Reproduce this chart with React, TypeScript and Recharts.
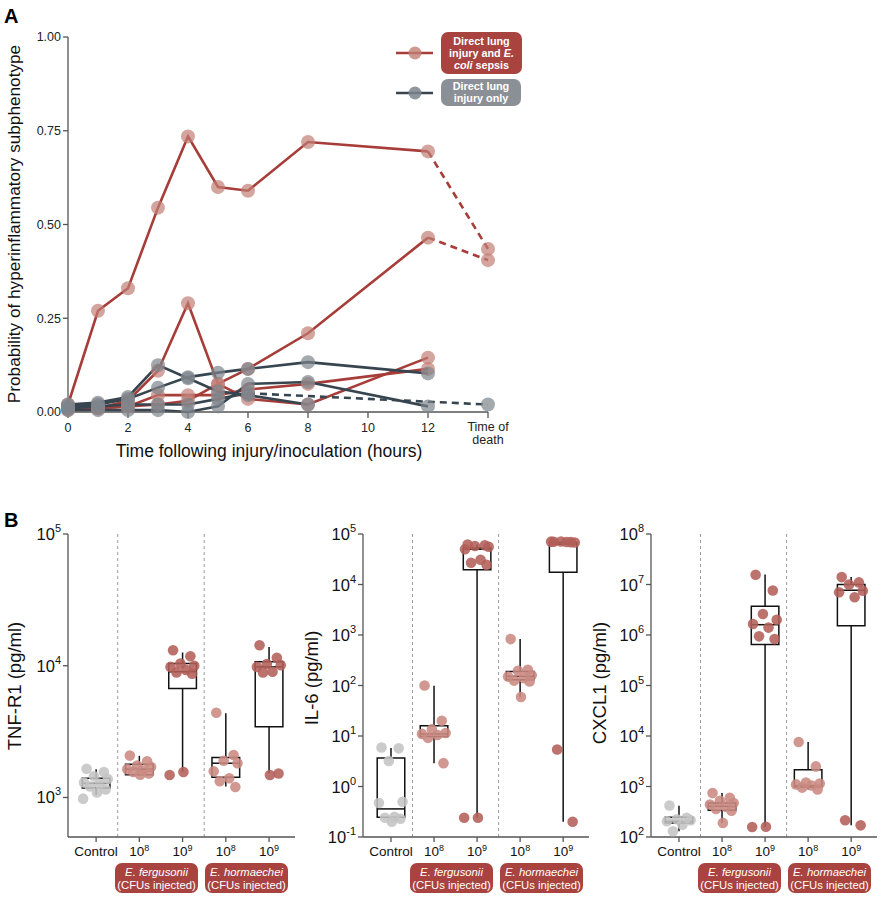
import React from "react";
import { ComposedChart, Line, Scatter, XAxis, YAxis, ReferenceArea, ReferenceLine } from "recharts";

const FONT = "'Liberation Sans', Arial, Helvetica, sans-serif";

// ---- panel A: probability of hyperinflammatory subphenotype ----
const hours = [0, 1, 2, 3, 4, 5, 6, 8, 12];
const DEATH = 14;
const sepsisA = [0.02, 0.27, 0.33, 0.545, 0.735, 0.6, 0.59, 0.72, 0.695];
const sepsisB = [0.01, 0.01, 0.015, 0.02, 0.03, 0.075, 0.115, 0.21, 0.465];
const sepsisC = [0.01, 0.01, 0.03, 0.11, 0.29, 0.075, 0.035, 0.02, 0.145];
const sepsisD = [0.005, 0.01, 0.015, 0.045, 0.045, 0.045, 0.06, 0.075, 0.115];
const lungA = [0.02, 0.025, 0.04, 0.125, 0.09, 0.055, 0.045, 0.02, null];
const lungB = [0.015, 0.02, 0.035, 0.065, 0.093, 0.105, 0.115, 0.133, 0.103];
const lungC = [0.005, 0.005, 0.005, 0.005, 0.0, 0.015, 0.075, 0.08, 0.015];
const lungD = [0.01, 0.015, 0.02, 0.02, 0.02, 0.035, 0.05, null, null];
// dashed links to time of death: [from hour, value at time of death]
const sepsisADeath = [12, 0.435];
const sepsisBDeath = [12, 0.405];
const lungDDeath = [6, 0.02];

// ---- panel B: cytokines ----
const groupLabels = ["Control", "10^8", "10^9", "10^8", "10^9"];

const tnfControl = [1650, 1560, 1450, 1380, 1300, 1270, 1210, 1150, 1090, 980];
const tnfFerg8 = [2080, 1880, 1750, 1700, 1640, 1600, 1560, 1520, 1490];
const tnfFerg9 = [13100, 11800, 10400, 10000, 9800, 9300, 8900, 8700, 1560, 1480];
const tnfHorm8 = [4400, 2100, 1900, 1820, 1580, 1400, 1330, 1200];
const tnfHorm9 = [14300, 11500, 10300, 10100, 9800, 9000, 8900, 1520, 1480];
// [min, q1, median, q3, max]
const tnfBoxes = [
  [1050, 1180, 1280, 1400, 1640],
  [1485, 1485, 1640, 1790, 2070],
  [1570, 6730, 9000, 10400, 12600],
  [1210, 1425, 1820, 2010, 4350],
  [1530, 3450, 9800, 10700, 13900],
];

const il6Control = [5.9, 5.7, 3.2, 0.5, 0.47, 0.25, 0.24, 0.23, 0.2];
const il6Ferg8 = [100, 20, 13.5, 11.5, 11, 10.5, 9.2, 2.9];
const il6Ferg9 = [62000, 60000, 58000, 56000, 50000, 31000, 27000, 24500, 0.24, 0.24];
const il6Horm8 = [830, 205, 195, 160, 150, 140, 125, 120, 59];
const il6Horm9 = [70000, 69000, 71000, 68000, 70500, 69500, 5.4, 0.2];
const il6Boxes = [
  [0.245, 0.245, 0.36, 3.66, 5.8],
  [2.9, 9.8, 11, 16, 99],
  [0.24, 19600, 50000, 53000, 62000],
  [59, 130, 152, 190, 830],
  [0.2, 17400, 63000, 68000, 71600],
];

const cxControl = [420, 240, 225, 215, 205, 175, 130];
const cxFerg8 = [740, 600, 520, 470, 440, 400, 360, 330, 190];
const cxFerg9 = [15600000, 7600000, 2600000, 2000000, 1650000, 1400000, 940000, 830000, 160, 158];
const cxHorm8 = [7600, 2500, 1200, 1150, 1100, 1050, 950, 870];
const cxHorm9 = [14000000, 11000000, 10000000, 7500000, 7000000, 5600000, 215, 170];
const cxBoxes = [
  [130, 190, 205, 245, 415],
  [190, 340, 405, 470, 740],
  [158, 650000, 1600000, 3700000, 15700000],
  [870, 980, 1040, 2140, 7600],
  [170, 1530000, 7700000, 10000000, 14000000],
];

const spread = [-0.22, 0.18, -0.05, 0.27, -0.28, 0.08, -0.14, 0.22, 0.02, -0.3, 0.12];

const RED_LINE = "#a63d38";
const RED_DOT = "#c27f76";
const GRAY_LINE = "#36454f";
const GRAY_DOT = "#7d848c";
const PILL_RED = "#a8433f";
const PILL_GRAY = "#8b9096";
const groupColors = ["#c4c4c4", "#c98a82", "#b35f59", "#c98a82", "#b35f59"];

const toRows = (vals: (number | null)[]) =>
  hours.map((t, i) => ({ t, p: vals[i] })).filter((r) => r.p !== null);

const HourTick = (props: any) => {
  const { x, y, payload } = props;
  const common = { fontFamily: FONT, fontSize: 12.5, fill: "#222", textAnchor: "middle" as const };
  if (payload.value === DEATH)
    return (
      <text x={x} y={y} dy={11} {...common}>
        <tspan x={x}>Time of</tspan>
        <tspan x={x} dy={13}>death</tspan>
      </text>
    );
  return (
    <text x={x} y={y} dy={12} {...common}>
      {payload.value}
    </text>
  );
};

const PowerTick = (props: any) => {
  const { x, y, payload } = props;
  const e = Math.round(Math.log10(payload.value));
  return (
    <text x={x} y={y} dy={6} textAnchor="end" fontFamily={FONT} fontSize={16.5} fill="#111">
      10
      <tspan dy={-8} fontSize={11}>
        {e}
      </tspan>
    </text>
  );
};

const GroupTick = (props: any) => {
  const { x, y, payload } = props;
  const [base, exp] = groupLabels[payload.value].split("^");
  return (
    <text x={x} y={y} dy={12} textAnchor="middle" fontFamily={FONT} fontSize={13.5} fill="#111">
      {base}
      {exp && (
        <tspan dy={-5} fontSize={9}>
          {exp}
        </tspan>
      )}
    </text>
  );
};

const Dot = (props: any) => (
  <circle cx={props.cx} cy={props.cy} r={5.3} fill={props.fill} fillOpacity={0.88} />
);

const BoxChart = ({ left, width, axisW, groups, boxes, domain, ticks }: any) => (
  <div style={{ position: "absolute", left, top: 500 }}>
    <ComposedChart width={width} height={360} margin={{ top: 34, right: 5, bottom: 0, left: 0 }}>
      <XAxis
        type="number"
        dataKey="x"
        domain={[-0.65, 4.6]}
        ticks={[0, 1, 2, 3, 4]}
        tick={<GroupTick />}
        height={23}
        stroke="#555"
        strokeWidth={1.3}
        tickSize={5}
      />
      <YAxis
        type="number"
        dataKey="y"
        scale="log"
        domain={domain}
        ticks={ticks}
        allowDataOverflow
        width={axisW}
        tick={<PowerTick />}
        stroke="#555"
        strokeWidth={1.3}
        tickSize={5}
      />
      <ReferenceLine x={0.5} stroke="#9a9a9a" strokeDasharray="3 3" />
      <ReferenceLine x={2.5} stroke="#9a9a9a" strokeDasharray="3 3" />
      {boxes.map((b: number[], i: number) => (
        <ReferenceArea
          key={"box" + i}
          x1={i - 0.32}
          x2={i + 0.32}
          y1={b[1]}
          y2={b[3]}
          fill="#fff"
          fillOpacity={1}
          stroke="#111"
          strokeWidth={1.5}
          ifOverflow="visible"
        />
      ))}
      {boxes.map((b: number[], i: number) => (
        <ReferenceLine
          key={"lo" + i}
          segment={[{ x: i, y: b[0] }, { x: i, y: b[1] }]}
          stroke="#111"
          strokeWidth={1.5}
          ifOverflow="visible"
        />
      ))}
      {boxes.map((b: number[], i: number) => (
        <ReferenceLine
          key={"hi" + i}
          segment={[{ x: i, y: b[3] }, { x: i, y: b[4] }]}
          stroke="#111"
          strokeWidth={1.5}
          ifOverflow="visible"
        />
      ))}
      {groups.map((vals: number[], i: number) => (
        <Scatter
          key={"pts" + i}
          data={vals.map((v, j) => ({ x: i + spread[j % spread.length], y: v }))}
          dataKey="y"
          fill={groupColors[i]}
          shape={<Dot />}
          isAnimationActive={false}
        />
      ))}
      {boxes.map((b: number[], i: number) => (
        <ReferenceLine
          key={"med" + i}
          segment={[{ x: i - 0.32, y: b[2] }, { x: i + 0.32, y: b[2] }]}
          stroke="#111"
          strokeWidth={1.5}
          ifOverflow="visible"
        />
      ))}
    </ComposedChart>
  </div>
);

const Pill = ({ x, y, w, h, fill, lines }: any) => (
  <g>
    <rect x={x} y={y} width={w} height={h} rx={7} fill={fill} />
    {lines}
  </g>
);

const sepsisSeries = [sepsisA, sepsisB, sepsisC, sepsisD];
const lungSeries = [lungA, lungB, lungC, lungD];
const deathLinks = [
  { vals: sepsisA, link: sepsisADeath, color: RED_LINE, dot: RED_DOT },
  { vals: sepsisB, link: sepsisBDeath, color: RED_LINE, dot: RED_DOT },
  { vals: lungD, link: lungDDeath, color: GRAY_LINE, dot: GRAY_DOT },
];

export default function App() {
  const dashedRows = deathLinks.map((d) => [
    { t: d.link[0], p: d.vals[hours.indexOf(d.link[0])] },
    { t: DEATH, p: d.link[1] },
  ]);
  const dotStyle = (fill: string) => ({ r: 7, fill, fillOpacity: 0.7, stroke: "none" });

  return (
    <div style={{ position: "relative", width: 883, height: 900, background: "#fff", fontFamily: FONT }}>
      <style>{"body{margin:0}"}</style>
      <div style={{ position: "absolute", left: 0, top: 0 }}>
        <ComposedChart width={520} height={470} margin={{ top: 37, right: 32, bottom: 28, left: 8 }}>
          <XAxis
            type="number"
            dataKey="t"
            domain={[0, DEATH]}
            ticks={[0, 2, 4, 6, 8, 10, 12, DEATH]}
            tick={<HourTick />}
            height={30}
            stroke="#555"
            strokeWidth={1.3}
            tickSize={6}
            allowDuplicatedCategory={false}
          />
          <YAxis
            type="number"
            domain={[0, 1]}
            ticks={[0, 0.25, 0.5, 0.75, 1]}
            tickFormatter={(v) => v.toFixed(2)}
            width={60}
            stroke="#555"
            strokeWidth={1.3}
            tickSize={5}
            tick={{ fontSize: 12.5, fill: "#222", fontFamily: FONT }}
          />
          {sepsisSeries.map((s, i) => (
            <Line key={"sd" + i} data={toRows(s)} dataKey="p" stroke="none" dot={dotStyle(RED_DOT)} activeDot={false} isAnimationActive={false} />
          ))}
          {deathLinks.map((d, i) => (
            <Line
              key={"dd" + i}
              data={[dashedRows[i][1]]}
              dataKey="p"
              stroke="none"
              dot={dotStyle(d.dot)}
              activeDot={false}
              isAnimationActive={false}
            />
          ))}
          {lungSeries.map((s, i) => (
            <Line key={"ld" + i} data={toRows(s)} dataKey="p" stroke="none" dot={dotStyle(GRAY_DOT)} activeDot={false} isAnimationActive={false} />
          ))}
          {sepsisSeries.map((s, i) => (
            <Line key={"sl" + i} data={toRows(s)} dataKey="p" stroke={RED_LINE} strokeWidth={2.6} dot={false} activeDot={false} isAnimationActive={false} />
          ))}
          {deathLinks.map((d, i) => (
            <Line
              key={"dl" + i}
              data={dashedRows[i]}
              dataKey="p"
              stroke={d.color}
              strokeWidth={2.6}
              strokeDasharray="7 5"
              dot={false}
              activeDot={false}
              isAnimationActive={false}
            />
          ))}
          {lungSeries.map((s, i) => (
            <Line key={"ll" + i} data={toRows(s)} dataKey="p" stroke={GRAY_LINE} strokeWidth={2.6} dot={false} activeDot={false} isAnimationActive={false} />
          ))}
        </ComposedChart>
      </div>

      <BoxChart
        left={0}
        width={300}
        axisW={68}
        groups={[tnfControl, tnfFerg8, tnfFerg9, tnfHorm8, tnfHorm9]}
        boxes={tnfBoxes}
        domain={[Math.pow(10, 2.7), 100000]}
        ticks={[1000, 10000, 100000]}
      />
      <BoxChart
        left={300}
        width={294}
        axisW={63}
        groups={[il6Control, il6Ferg8, il6Ferg9, il6Horm8, il6Horm9]}
        boxes={il6Boxes}
        domain={[0.1, 100000]}
        ticks={[0.1, 1, 10, 100, 1000, 10000, 100000]}
      />
      <BoxChart
        left={590}
        width={292}
        axisW={61}
        groups={[cxControl, cxFerg8, cxFerg9, cxHorm8, cxHorm9]}
        boxes={cxBoxes}
        domain={[100, 100000000]}
        ticks={[100, 1000, 10000, 100000, 1000000, 10000000, 100000000]}
      />

      <svg width={883} height={900} style={{ position: "absolute", left: 0, top: 0, pointerEvents: "none" }} fontFamily={FONT}>
        <text x={4} y={23} fontSize={20} fontWeight="bold" fill="#000">A</text>
        <text x={4} y={527} fontSize={20} fontWeight="bold" fill="#000">B</text>

        <text transform="translate(20,224) rotate(-90)" textAnchor="middle" fontSize={17.2} fill="#111">
          Probability of hyperinflammatory subphenotype
        </text>
        <text x={269} y={457} textAnchor="middle" fontSize={17.5} fill="#111">
          Time following injury/inoculation (hours)
        </text>

        {/* legend */}
        <line x1={396} x2={433} y1={53} y2={53} stroke={RED_LINE} strokeWidth={2.6} />
        <circle cx={415} cy={53} r={6.5} fill={RED_DOT} fillOpacity={0.8} />
        <Pill
          x={441} y={32} w={81} h={42} fill={PILL_RED}
          lines={
            <text x={481.5} textAnchor="middle" fontSize={10.8} fontWeight="bold" fill="#fff">
              <tspan x={481.5} y={45}>Direct lung</tspan>
              <tspan x={481.5} y={57}>injury and <tspan fontStyle="italic">E.</tspan></tspan>
              <tspan x={481.5} y={69}><tspan fontStyle="italic">coli</tspan> sepsis</tspan>
            </text>
          }
        />
        <line x1={396} x2={433} y1={93} y2={93} stroke={GRAY_LINE} strokeWidth={2.6} />
        <circle cx={415} cy={93} r={6.5} fill={GRAY_DOT} fillOpacity={0.85} />
        <Pill
          x={441} y={79} w={80} h={27} fill={PILL_GRAY}
          lines={
            <text x={481} textAnchor="middle" fontSize={10.8} fontWeight="bold" fill="#fff">
              <tspan x={481} y={90}>Direct lung</tspan>
              <tspan x={481} y={102}>injury only</tspan>
            </text>
          }
        />

        {/* panel B axis titles */}
        <text transform="translate(21,686) rotate(-90)" textAnchor="middle" fontSize={18.5} fill="#111">TNF-R1 (pg/ml)</text>
        <text transform="translate(318,678) rotate(-90)" textAnchor="middle" fontSize={18.5} fill="#111">IL-6 (pg/ml)</text>
        <text transform="translate(606,683) rotate(-90)" textAnchor="middle" fontSize={18.5} fill="#111">CXCL1 (pg/ml)</text>

        {[68, 363, 651].map((x0) =>
          [
            { dx: 47, name: "E. fergusonii" },
            { dx: 137, name: "E. hormaechei" },
          ].map((p) => (
            <Pill
              key={x0 + p.name}
              x={x0 + p.dx} y={863} w={83} h={30} fill={PILL_RED}
              lines={
                <text textAnchor="middle" fontSize={11.3} fill="#fff">
                  <tspan x={x0 + p.dx + 41.5} y={876} fontStyle="italic">{p.name}</tspan>
                  <tspan x={x0 + p.dx + 41.5} y={889}>(CFUs injected)</tspan>
                </text>
              }
            />
          ))
        )}
      </svg>
    </div>
  );
}
